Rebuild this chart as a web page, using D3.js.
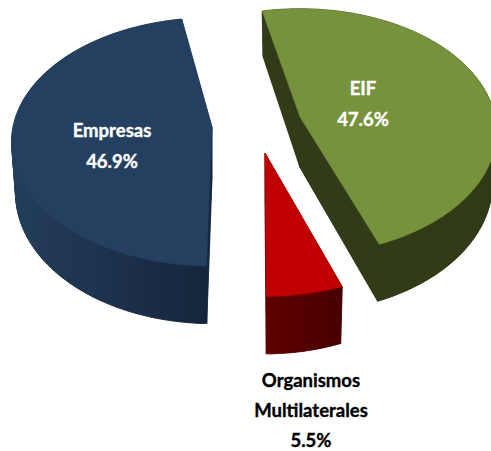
<!DOCTYPE html>
<html><head><meta charset="utf-8">
<script src="https://cdn.jsdelivr.net/npm/d3@7/dist/d3.min.js"></script>
<style>html,body{margin:0;padding:0;background:#fff}svg{display:block}text{font-family:Lato,"Open Sans",sans-serif;font-weight:700;text-anchor:middle}</style>
</head><body><div id="c"></div>
<script>
const categories = ["EIF", "Organismos", "Empresas"];
const values = [47.6, 5.5, 46.9];
const valueLabels = ["47.6%", "5.5%", "46.9%"];

const W = 491, H = 451;
const rx = 199, ry = 125, k = 0.12, depth = 50.5, inset = 0.98;
const apex = [[300,117],[265,153],[212,127]];
const rxScale = [0.98,1,1], ryScale = [0.97,1.01,0.98];
const turnDeg = [-1,0,1.7];
const topFill = ["#76923c","#c00000","#243f60"];
const labelLines = [["EIF","47.6%"],["Organismos","Multilaterales","5.5%"],["Empresas","46.9%"]];
const labelPos = [[363,[95,126]],[311,[387,417,447]],[112,[137,168]]];

const svg = d3.select("#c").append("svg").attr("width",W).attr("height",H);
const defs = svg.append("defs");
function grad(id,x1,x2,stops){
  const g=defs.append("linearGradient").attr("id",id).attr("gradientUnits","userSpaceOnUse")
    .attr("x1",x1).attr("x2",x2).attr("y1",0).attr("y2",0);
  stops.forEach(s=>g.append("stop").attr("offset",s[0]).attr("stop-color",s[1]));
  return `url(#${id})`;
}
const wallFill = [
  "#313b18",
  grad("wr",265,342,[[0,"#600000"],[1,"#470000"]]),
  grad("we",14,210,[[0,"#233d5b"],[0.6,"#1b2f49"],[1,"#14253a"]])
];

const pie = d3.pie().sort(null).startAngle(348.5*Math.PI/180).endAngle((348.5+360)*Math.PI/180);
const arcs = pie(values);
const line = d3.line();

function project(i,a,r,bottom){
  const o=apex[i], X=r*Math.sin(a), Y=r*Math.cos(a), s=1/(1+k*Y);
  const px=rx*rxScale[i]*X*s, py=ry*ryScale[i]*Y*s;
  if(!bottom) return [o[0]+px, o[1]-py];
  return [o[0]+px*inset, o[1]-py+depth*s];
}
function outline(i,d,bottom){
  const turn=turnDeg[i]*Math.PI/180, a0=d.startAngle+turn, a1=d.endAngle+turn;
  const n=Math.max(8,Math.ceil((a1-a0)*40));
  const angles=d3.range(n+1).map(j=>a0+(a1-a0)*j/n);
  return [project(i,0,0,bottom),...angles.map(a=>project(i,a,1,bottom))];
}

arcs.forEach((d,i)=>{
  const g=svg.append("g");
  const t=outline(i,d,false), b=outline(i,d,true);
  g.append("path").attr("d",line(b)+"Z").attr("fill",wallFill[i]).attr("stroke",wallFill[i]).attr("stroke-width",0.5);
  t.forEach((p,j)=>{
    const q=(j+1)%t.length;
    g.append("path").attr("d",line([p,t[q],b[q],b[j]])+"Z")
      .attr("fill",wallFill[i]).attr("stroke",wallFill[i]).attr("stroke-width",0.6);
  });
  g.append("path").attr("d",line(t)+"Z").attr("fill",topFill[i]).attr("stroke",topFill[i]).attr("stroke-width",0.5);
});

labelLines.forEach((ls,i)=>{
  const c=i===1?"#000":"#fff";
  ls.forEach((s,j)=>{
    svg.append("text").attr("x",labelPos[i][0]).attr("y",labelPos[i][1][j])
      .attr("font-size",18.5).attr("fill",c).attr("stroke",c).attr("stroke-width",0.35).text(s);
  });
});
</script></body></html>
